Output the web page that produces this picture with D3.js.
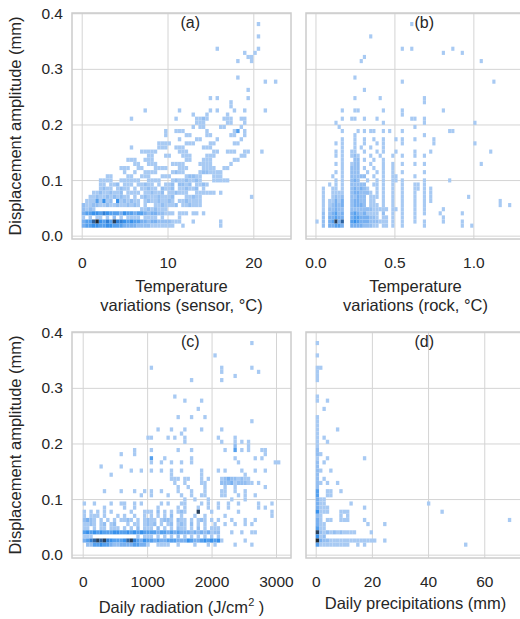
<!DOCTYPE html>
<html>
<head>
<meta charset="utf-8">
<script src="https://cdn.jsdelivr.net/npm/d3@7"></script>
<style>
  body { margin: 0; background: #fff; overflow: hidden; }
</style>
</head>
<body>
<svg id="chart"></svg>
<script>
// Displacement amplitude bins, shared by the four panels (mm)
const ampStart = 0.0143, ampStep = 0.0074;
const ampTicks = [0, 0.1, 0.2, 0.3, 0.4];

// 2D histogram counts.
// Each row: [amplitude at the bin centre, counts per x bin]; "." = empty,
// "|" only splits the string into groups of ten bins for readability.

// (a) temperature variations, sensor (°C), bins of 0.4 °C from 0
const sensorStart = 0, sensorStep = 0.4;
const sensorTicks = [0, 10, 20];
const sensorRows = [
  [0.381, "..........|..........|..........|..........|..........|.1"],
  [0.358, "..........|..........|..........|..........|..........|.1"],
  [0.336, "..........|..........|..........|.........1|..........|.1"],
  [0.329, "..........|..........|..........|..........|.......1..|1"],
  [0.321, "..........|..........|..........|..........|........11"],
  [0.314, "..........|..........|..........|..........|.....1...1"],
  [0.284, "..........|..........|..........|..........|.....1"],
  [0.277, "..........|..........|..........|..........|..........|...1..1"],
  [0.262, "..........|..........|..........|..........|........1"],
  [0.247, "..........|..........|..........|.......1.1|........1"],
  [0.240, "..........|..........|..........|..........|...1"],
  [0.233, "..........|..........|..........|..........|...1"],
  [0.225, "..........|........1.|........1.|.......1.1|....1..1..|...1"],
  [0.218, "..........|..........|..........|..1...1...|..1"],
  [0.210, "..........|....1.....|.......1..|...1121...|.111..11.."],
  [0.203, "..........|..........|..........|...111....|..11...1.."],
  [0.196, "..........|..........|..........|..1.11....|11....1..."],
  [0.188, "..........|..........|....1..111|......1...|....14.1.."],
  [0.181, "..........|..........|....1.....|11....11..|...11..1.."],
  [0.173, "..........|..........|........1.|...11....1|......1..."],
  [0.166, "..........|..........|..1111....|111....11.|....11...."],
  [0.159, "..........|....1.....|..111..111|.....111.."],
  [0.151, "..........|.......111|11......11|1.......11|..111..11.|..1"],
  [0.144, "..........|.........1|1...11...1|11....111.|......11.."],
  [0.136, "..........|...111..11|1.........|11...111..|....11...."],
  [0.129, "..........|.....11..1|11....1111|....1111..|...1"],
  [0.122, "..........|.111..11..|.1111...11|1....1111.|.11"],
  [0.114, "..........|..1..1..11|11....1211|....122111|1"],
  [0.107, ".......11.|...11..111|...111....|12211...11|1"],
  [0.099, ".....1111.|.111111..1|111...1211|21121...11|111"],
  [0.092, ".....11.11|2.111.1121|1.1.112.22|12.1121..."],
  [0.085, ".....1211.|1211.1.112|11.2112.11|2112.1...."],
  [0.077, "...1121121|12.1111.11|2112.11211|1..111111.|1"],
  [0.070, "..11211212|1211.1.121|1121112...|11211.....|.........1"],
  [0.062, ".11141512.|5121211.12|1121121.11|21111....."],
  [0.055, "2112211211|2112121.1.|.1121112.1|12111....."],
  [0.048, "2121......|.......112|12111....."],
  [0.040, "3445546544|4354434432|3322111.11|1.11.1"],
  [0.033, "1.1.11.1.2|.1.1111.11|11.1....1."],
  [0.025, "3447954648|6654544332|332222111.|..1.......|1"],
  [0.018, "3445544554|4433332222|1111111..1|..........|1"]
];

// (b) temperature variations, rock (°C), bins of 0.02 °C from 0
const rockStart = 0, rockStep = 0.02;
const rockTicks = [0, 0.5, 1.0];
const rockRows = [
  [0.381, "..........|..........|..........|1"],
  [0.358, "..........|.......1"],
  [0.336, "..........|..........|.......1..|1.........|...1"],
  [0.329, "..........|..........|..........|..........|1.....1"],
  [0.321, "..........|.....1"],
  [0.314, "..........|....1.....|..........|..........|..........|..1"],
  [0.284, "..........|..1"],
  [0.277, "..........|..........|.......1..|..........|..........|......1"],
  [0.262, "..........|.....1"],
  [0.247, "..........|..1.......|1.........|....1"],
  [0.240, "..........|..........|..........|....1"],
  [0.225, "........1.|..11......|.1.....1..|..........|1"],
  [0.218, "..........|..........|.......1"],
  [0.210, "........1.|.11..1...1|..........|11..1"],
  [0.203, "......1...|..........|.1........|....1.....|..........|1"],
  [0.196, ".......1..|..........|..........|.1"],
  [0.188, "........1.|...1.1.11.|.1.1...1..|..........|..11"],
  [0.181, "..........|..1.......|..........|....1"],
  [0.173, "........1.|..1..1..1.|.1...1.1..|.1.....1"],
  [0.166, "......1.1.|..1..1...1|.1.....1..|.......1..|..........|1"],
  [0.159, "........1.|..1.1..1..|.1"],
  [0.151, "......1.1.|.11..1...1|.1...1....|.1....1...|..........|.....1"],
  [0.144, "......1.1.|.121...1..|1...1..1..|.1..1"],
  [0.136, "........1.|..22.1..1.|.1"],
  [0.129, "......1.1.|.122...1..|.1..1..1..|.1..1.....|..........|..1"],
  [0.122, "........1.|.222.1..1.|.1..1"],
  [0.114, "......1.1.|.222..1..1|.1..1..1..|....1"],
  [0.107, ".....1..1.|.22222..1.|.1..11....|.1"],
  [0.099, "......1.1.|.232..1..1|.1..11.1..|....1.....|..1"],
  [0.092, "....1.1.1.|.22222..11|.1..1..1..|.11.1"],
  [0.085, "..1..11.1.|.232321..1|.1..1..1..|.11.1.1"],
  [0.077, "..1..1111.|.2332221.1|.1..1..1..|.1..1.1"],
  [0.070, "..1..1212.|.22322.111|.1..1..1..|.1..1.1...|........1"],
  [0.062, "..1.11313.|.23322.11.|.1..1..1..|.1..1.1...|..........|........1"],
  [0.055, "..1.12323.|.23332.111|.1..1..1..|.1..1.....|..........|........1.|.1"],
  [0.048, "..1.22322.|.222222211|111.11.1..|.1..1.....|1"],
  [0.040, "..2.23423.|.343231111|.2..1..1..|.1..1....1|......1"],
  [0.033, "..2.33433.|.344333221|.11.1..1..|.1........|1"],
  [0.025, "1.2.34837.|.454333222|111.1..1..|.1..1.....|1.....1"],
  [0.018, "..2.33443.|.333322211|.11.1..1..|....1.....|......1..1"]
];

// (c) daily radiation (J/cm²), bins of 52 J/cm² from 0
const radStart = 0, radStep = 52;
const radTicks = [0, 1000, 2000, 3000];
const radRows = [
  [0.381, "..........|..........|..........|..........|..........|1"],
  [0.358, "..........|..........|..........|.........1"],
  [0.336, "..........|..........|1.........|..........|.1........|1"],
  [0.329, "..........|..........|..........|..........|.1........|..1"],
  [0.321, "..........|..........|..........|..........|.....1"],
  [0.314, "..........|..........|..........|..1.......|.1"],
  [0.284, "..........|..........|.......1"],
  [0.277, "..........|..........|..........|1....1"],
  [0.262, "..........|..........|..........|....1"],
  [0.247, "..........|..........|........1.|..1...1"],
  [0.240, "..........|..........|..........|..........|..........|1"],
  [0.225, "..........|..........|..1...1...|1....1....|.1"],
  [0.218, "..........|..........|.........1"],
  [0.210, "..........|.........1|1....1.1..|1.........|1....1"],
  [0.203, "..........|..........|..........|1.........|.1...1.1.1"],
  [0.196, "..........|..........|..........|..........|.....2...1"],
  [0.188, "..........|.....1....|1.......1.|..1.......|..1..4.1.1|...11"],
  [0.181, "..........|.1...1....|..........|..........|..........|....1"],
  [0.173, "..........|..........|4...1.....|..1.......|.....1....|.1.1"],
  [0.166, "..........|..........|1..1..1..1|..1.......|......1...|.......11"],
  [0.159, ".....1....|.1"],
  [0.151, "..........|....1..1..|1..1..1..1|.....1....|1.1....1..|.1..1"],
  [0.144, "........1.|..........|......1...|.....1....|........1"],
  [0.136, "..........|..........|......111.|11...1.1..|.123221211"],
  [0.129, "..........|..........|.......1..|1....11...|.222312221|1.1"],
  [0.122, "..........|..........|........1.|.1....1...|..1..1....|....1"],
  [0.114, "......1...|.1...1..1.|1..1....1.|..1...1...|.11..1..1."],
  [0.107, "..........|.......1..|1....1...1|..1..11...|.11...1.1.|.1"],
  [0.099, "..........|..........|..........|1..1...1..|....1...1."],
  [0.092, "1..1....1.|.11..1.1..|...1.1...1|1....1.1..|1..1..1...|..1...1"],
  [0.085, "......1...|..1..1....|..1.....1.|1...1..1..|1..1......|..1.1"],
  [0.077, "1.1.1.1.1.|....1...11|1.2.1.1.12|1...8...1.|......1...|......1"],
  [0.070, "1.111.1...|1.1..1..1.|1.1.1.2..1|...1..1...|..1.......|......1"],
  [0.062, "2321.1.1.1|.1121.1.12|11.1221.21|1.1.121.1.|1...1...1.|.1"],
  [0.055, "1121.12.12|...1.11.12|12.1.12.12|1.2.1.1..1|..1..1..1.|1"],
  [0.048, "11.1.11.11|1.1.1.2.11|1.2.1.1.21|1.1.2.1.11|1"],
  [0.040, "4545454445|5445454544|4434434343|3323232312|2...1..1..|11"],
  [0.033, "111.......|......1.11|1.1.1.1.2.|1.1.1.1.1.|1"],
  [0.025, "3467878654|4457864354|4343344433|3543345454|51......1."],
  [0.018, ".224454432|2333344331|..1111..1.|...1...1.1|.....1....|1"]
];

// (d) daily precipitations (mm), bins of 1.2 mm from 0
const rainStart = 0, rainStep = 1.2;
const rainTicks = [0, 20, 40, 60];
const rainRows = [
  [0.381, "1"], [0.358, "1"], [0.336, "11"], [0.329, "1"], [0.321, "1"],
  [0.314, "1"], [0.284, "1"], [0.277, "1..1"], [0.262, "..1"], [0.247, "1"],
  [0.240, "1"], [0.233, "1"], [0.225, "1.....1"], [0.218, "1"], [0.210, "1.1"],
  [0.203, "1..1"], [0.196, "1"], [0.188, "2"], [0.181, "21"],
  [0.173, "1..1......|....1"],
  [0.166, "2.1"], [0.159, "2"], [0.151, "21..1"], [0.144, "2"], [0.136, "2.1"],
  [0.129, "21.1..1"], [0.122, "2"], [0.114, "4..11..1"], [0.107, "4..11"],
  [0.099, "311"],
  [0.092, "311.......|1.........|..........|...1"],
  [0.085, "3111......|....1"],
  [0.077, "5111...111|..........|..........|.......1"],
  [0.070, "21.....1.1"],
  [0.062, "31.11..111|....1.....|..........|..........|..........|.......1"],
  [0.055, "311.......|.....1....|1"],
  [0.048, "411"],
  [0.040, "8212121211|11....1"],
  [0.033, "512"],
  [0.025, "9322111111|11111111..|1"],
  [0.018, "4111111111|..1.1.....|..........|..........|....1"]
];

const yLabel = "Displacement amplitude (mm)";
const tags = ["(a)", "(b)", "(c)", "(d)"];

const W = 520, H = 619;
const colX = [72, 306], rowY = [13, 332];
const pw = 219, ph = 226;
const ampDomain = [-0.006, 0.4005];
const ink = "#262626";

const panels = [
  {rows: sensorRows, start: sensorStart, step: sensorStep, ticks: sensorTicks, fmt: d3.format("d"),
   xDomain: [-1.13, 24.39], col: 0, row: 0,
   label: [["Temperature"], ["variations (sensor, °C)"]], labelY: [53, 72]},
  {rows: rockRows, start: rockStart, step: rockStep, ticks: rockTicks, fmt: d3.format(".1f"),
   xDomain: [-0.060, 1.327], col: 1, row: 0,
   label: [["Temperature"], ["variations (rock, °C)"]], labelY: [53, 72]},
  {rows: radRows, start: radStart, step: radStep, ticks: radTicks, fmt: d3.format("d"),
   xDomain: [-166, 3233], col: 0, row: 1,
   label: [["Daily radiation (J/cm", "2", " )"]], labelY: [55]},
  {rows: rainRows, start: rainStart, step: rainStep, ticks: rainTicks, fmt: d3.format("d"),
   xDomain: [-3.45, 74.5], col: 1, row: 1,
   label: [["Daily precipitations (mm)"]], labelY: [51]}
];

const shade = d3.scaleLinear()
  .domain([1, 2, 3, 4, 5, 6, 7, 8, 9])
  .range(["#a8caf3", "#93bef1", "#78b0f0", "#55a0ee", "#3891ec", "#2f7fd6", "#2d63a0", "#28405c", "#222a33"])
  .clamp(true);

function toCells(rows) {
  const cells = [];
  rows.forEach(([amp, s]) => {
    const j = Math.floor((amp - ampStart) / ampStep);
    s.replace(/\|/g, "").split("").forEach((ch, i) => {
      if (ch !== ".") cells.push({i, j, n: +ch});
    });
  });
  return cells;
}

const svg = d3.select("#chart")
  .attr("width", W)
  .attr("height", H)
  .attr("font-family", "'Liberation Sans', Arial, sans-serif");

panels.forEach((p, k) => {
  const left = colX[p.col], top = rowY[p.row];
  const x = d3.scaleLinear(p.xDomain, [left, left + pw]);
  const y = d3.scaleLinear(ampDomain, [top + ph, top]);
  const g = svg.append("g");

  // grid + tick labels
  g.append("g")
    .attr("transform", `translate(0,${top + ph})`)
    .call(d3.axisBottom(x).tickValues(p.ticks).tickFormat(p.fmt).tickSize(-ph).tickPadding(18))
    .attr("font-family", null).attr("font-size", null)
    .call(a => a.select(".domain").remove())
    .call(a => a.selectAll("line").attr("stroke", "#d4d4d4"))
    .call(a => a.selectAll("text").attr("fill", ink).attr("font-size", 15.5));

  g.append("g")
    .attr("transform", `translate(${left},0)`)
    .call(d3.axisLeft(y).tickValues(ampTicks)
      .tickFormat(p.col === 0 ? d3.format(".1f") : () => "")
      .tickSize(-pw).tickPadding(9))
    .attr("font-family", null).attr("font-size", null)
    .call(a => a.select(".domain").remove())
    .call(a => a.selectAll("line").attr("stroke", "#d4d4d4"))
    .call(a => a.selectAll("text").attr("fill", ink).attr("font-size", 15.5));

  // histogram cells
  g.append("g")
    .selectAll("rect")
    .data(toCells(p.rows))
    .join("rect")
    .attr("x", d => x(p.start + d.i * p.step))
    .attr("width", d => x(p.start + (d.i + 1) * p.step) - x(p.start + d.i * p.step))
    .attr("y", d => y(ampStart + (d.j + 1) * ampStep))
    .attr("height", d => y(ampStart + d.j * ampStep) - y(ampStart + (d.j + 1) * ampStep))
    .attr("fill", d => shade(d.n));

  // frame
  g.append("rect")
    .attr("x", left).attr("y", top)
    .attr("width", pw).attr("height", ph)
    .attr("fill", "none")
    .attr("stroke", "#cccccc")
    .attr("stroke-width", 1.5);

  // panel tag
  g.append("text")
    .attr("x", left + 0.54 * pw)
    .attr("y", top + 15)
    .attr("text-anchor", "middle")
    .attr("font-size", 16)
    .attr("fill", ink)
    .text(tags[k]);

  // x label
  p.label.forEach((parts, li) => {
    const t = g.append("text")
      .attr("x", left + pw / 2)
      .attr("y", top + ph + p.labelY[li])
      .attr("text-anchor", "middle")
      .attr("font-size", 16.5)
      .attr("fill", ink);
    t.append("tspan").text(parts[0]);
    if (parts.length > 1) {
      t.append("tspan").attr("dy", -7).attr("font-size", 11).text(parts[1]);
      t.append("tspan").attr("dy", 7).text(parts[2]);
    }
  });

  // y label
  if (p.col === 0) {
    svg.append("text")
      .attr("transform", `translate(21,${top + ph / 2}) rotate(-90)`)
      .attr("text-anchor", "middle")
      .attr("font-size", 16.5)
      .attr("fill", ink)
      .text(yLabel);
  }
});
</script>
</body>
</html>
